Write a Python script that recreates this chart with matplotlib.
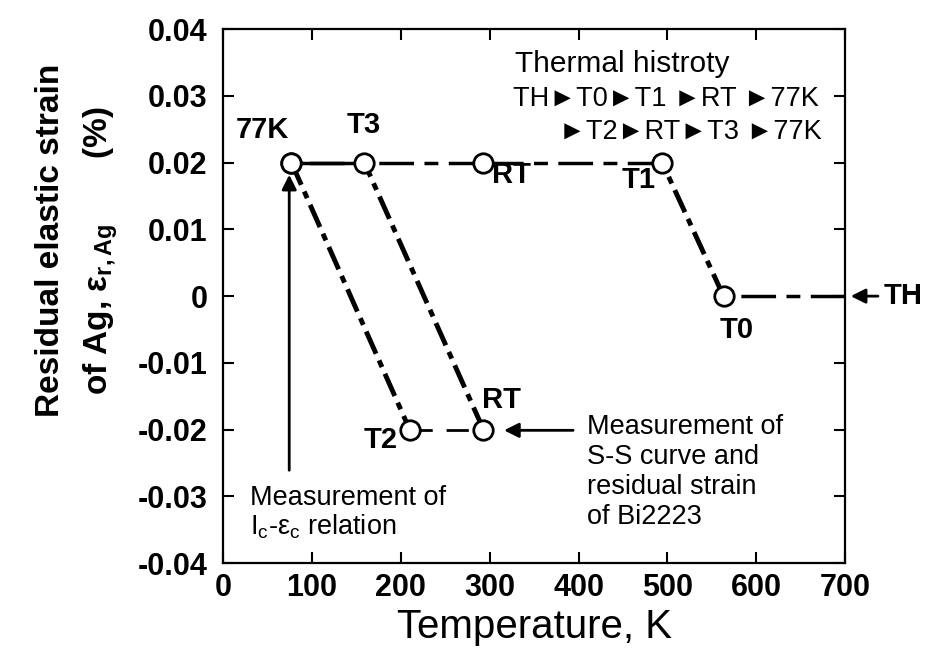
import matplotlib
matplotlib.use('Agg')
import matplotlib.pyplot as plt
import numpy as np

plt.rcParams['font.family'] = ['Liberation Sans', 'DejaVu Sans']
plt.rcParams['mathtext.fontset'] = 'custom'
plt.rcParams['mathtext.rm'] = 'Liberation Sans'
plt.rcParams['mathtext.it'] = 'Liberation Sans'
plt.rcParams['mathtext.bf'] = 'Liberation Sans:bold'

# thermal history path: TH -> T0 -> T1 -> RT -> 77K -> T2 -> RT -> T3 -> 77K
temps = [700, 563, 494, 293, 77, 210, 293, 159, 77]
strains = [0.0, 0.0, 0.02, 0.02, 0.02, -0.02, -0.02, 0.02, 0.02]
point_names = ['TH', 'T0', 'T1', 'RT', '77K', 'T2', 'RT', 'T3', '77K']

xticks = [0, 100, 200, 300, 400, 500, 600, 700]
yticks = [-0.04, -0.03, -0.02, -0.01, 0, 0.01, 0.02, 0.03, 0.04]
ytick_labels = ['-0.04', '-0.03', '-0.02', '-0.01', '0', '0.01', '0.02', '0.03', '0.04']

fig = plt.figure(figsize=(9.33, 6.61), dpi=100)
ax = fig.add_axes([0.239, 0.148, 0.667, 0.808])

# line style for each segment
seg_styles = [
    dict(lw=2.5, dashes=(10, 3, 4, 3)),        # TH -> T0
    dict(lw=3.5, dashes=(5, 1.5, 1.5, 1.5)),   # T0 -> T1
    dict(lw=2.5, dashes=(10, 3, 4, 3)),        # T1 -> RT
    dict(lw=2.5, dashes=(10, 3, 4, 3)),        # RT -> 77K
    dict(lw=3.5, dashes=(5, 1.5, 1.5, 1.5)),   # 77K -> T2
    dict(lw=2.0, dashes=(8, 5)),               # T2 -> RT
    dict(lw=3.5, dashes=(5, 1.5, 1.5, 1.5)),   # RT -> T3
    dict(lw=2.5, dashes=()),                   # T3 -> 77K
]

for i, st in enumerate(seg_styles):
    ax.plot(temps[i:i + 2], strains[i:i + 2], color='black',
            solid_capstyle='butt', dash_capstyle='butt', **st)

ax.plot(temps[1:], strains[1:], 'o', ms=14, mfc='white', mec='black', mew=2, ls='none', zorder=5)

# point labels
lab_kw = dict(fontsize=21, fontweight='bold', ha='center', va='center')
ax.text(44, 0.0249, '77K', **lab_kw)
ax.text(158, 0.0256, 'T3', **lab_kw)
ax.text(324, 0.0181, 'RT', **lab_kw)
ax.text(467, 0.0174, 'T1', **lab_kw)
ax.text(578, -0.0051, 'T0', **lab_kw)
ax.text(313, -0.0156, 'RT', **lab_kw)
ax.text(177, -0.0216, 'T2', **lab_kw)

# thermal history text
ax.text(328, 0.0348, 'Thermal histroty', fontsize=21.5, ha='left', va='center')
ax.text(326, 0.0296, 'TH\u25baT0\u25baT1 \u25baRT \u25ba77K', fontsize=19.5, ha='left', va='center')
ax.text(378, 0.0246, '\u25baT2\u25baRT\u25baT3 \u25ba77K', fontsize=19.5, ha='left', va='center')

# arrows
arr = dict(arrowstyle='-|>', color='black', lw=2, mutation_scale=22)
ax.annotate('', xy=(74.5, 0.0186), xytext=(74.5, -0.0265), arrowprops=arr)
ax.annotate('', xy=(313, -0.0201), xytext=(397, -0.0201), arrowprops=arr)
ax.annotate('TH', xy=(703, 0), xytext=(743, 0), fontsize=21, fontweight='bold',
            va='center', ha='left', arrowprops=arr, annotation_clip=False)

ax.text(30, -0.0283, 'Measurement of\n$\\mathregular{I_c}$-$\\mathregular{\u03b5_c}$ relation',
        fontsize=19.5, ha='left', va='top', linespacing=1.05)
ax.text(409, -0.0176, 'Measurement of\nS-S curve and\nresidual strain\nof Bi2223',
        fontsize=19.5, ha='left', va='top', linespacing=1.2)

ax.set_xlim(0, 700)
ax.set_ylim(-0.04, 0.04)
ax.set_xticks(xticks)
ax.set_yticks(yticks)
ax.set_yticklabels(ytick_labels)
ax.tick_params(direction='in', length=8, width=1.5, top=True, right=True,
               labelsize=22)
ax.tick_params(axis='y', pad=11)
ax.tick_params(axis='x', pad=7)
for lab in ax.get_xticklabels() + ax.get_yticklabels():
    lab.set_fontweight('bold')
for sp in ax.spines.values():
    sp.set_linewidth(1.6)

ax.set_xlabel('Temperature, K', fontsize=29, labelpad=4)
fig.text(0.054, 0.637, 'Residual elastic strain', rotation=90, fontsize=24,
         fontweight='bold', ha='center', va='center')
fig.text(0.108, 0.62, 'of Ag, $\\mathbf{\u03b5_{r,Ag}}$       (%)', rotation=90, fontsize=24,
         fontweight='bold', ha='center', va='center')

fig.savefig('out.png', dpi=100)
